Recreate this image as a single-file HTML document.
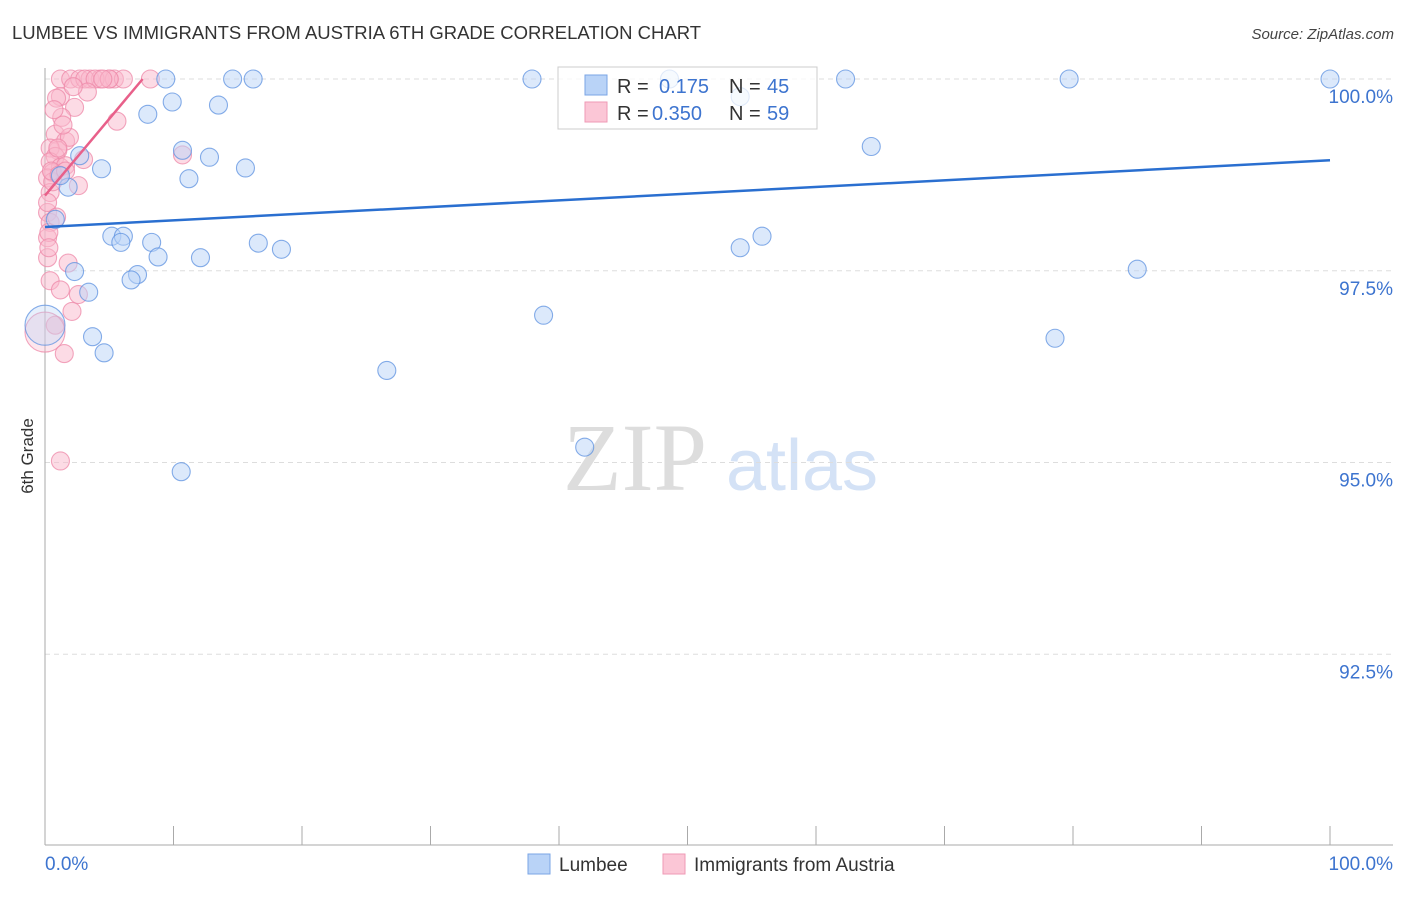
<!DOCTYPE html>
<html><head><meta charset="utf-8"><style>
body{margin:0;background:#fff;font-family:"Liberation Sans",sans-serif;}
</style></head><body>
<svg id="chart" width="1406" height="892" viewBox="0 0 1406 892" xmlns="http://www.w3.org/2000/svg">
<text x="12" y="39" font-size="18.5" fill="#333" font-family="Liberation Sans, sans-serif">LUMBEE VS IMMIGRANTS FROM AUSTRIA 6TH GRADE CORRELATION CHART</text>
<text x="1394" y="39" font-size="15" fill="#444" text-anchor="end" font-style="italic">Source: ZipAtlas.com</text>
<text transform="translate(33,456) rotate(-90)" font-size="17" fill="#333" text-anchor="middle">6th Grade</text>
<g>
<text x="635" y="490" font-size="96" fill="#ddd" font-family="Liberation Serif, serif" text-anchor="middle">ZIP</text>
<text x="802" y="490" font-size="72" fill="#d4e2f6" text-anchor="middle">atlas</text>
</g>
<g id="grid"></g><g id="axes"></g>
<g id="pts"></g><g id="lines"></g>
<g>
<rect x="558" y="67" width="259" height="62" fill="#fff" fill-opacity="0.75" stroke="#ccc"/>
<rect x="585" y="75" width="22" height="20" fill="#b9d3f7" stroke="#7aa5e6"/>
<rect x="585" y="102" width="22" height="20" fill="#fbc6d6" stroke="#ef9ab5"/>
<text x="617" y="93" font-size="20" fill="#333">R = </text><text x="659" y="93" font-size="20" fill="#3d74cf">0.175</text>
<text x="729" y="93" font-size="20" fill="#333">N = </text><text x="767" y="93" font-size="20" fill="#3d74cf">45</text>
<text x="617" y="120" font-size="20" fill="#333">R = </text><text x="652" y="120" font-size="20" fill="#3d74cf">0.350</text>
<text x="729" y="120" font-size="20" fill="#333">N = </text><text x="767" y="120" font-size="20" fill="#3d74cf">59</text>
</g>
<g>
<rect x="528" y="854" width="22" height="20" fill="#b9d3f7" stroke="#7aa5e6"/>
<text x="559" y="871" font-size="19" fill="#333">Lumbee</text>
<rect x="663" y="854" width="22" height="20" fill="#fbc6d6" stroke="#ef9ab5"/>
<text x="694" y="871" font-size="19" fill="#333">Immigrants from Austria</text>
</g>
</svg>
<script>
const xTickLabels=["0.0%","100.0%"];
const yTicks=[100,97.5,95,92.5];
const yTickLabels=["100.0%","97.5%","95.0%","92.5%"];
const lumbeeX=[9.4,14.6,16.2,37.9,62.3,79.7,100,48.6,54.1,9.9,13.5,8.0,10.7,12.8,2.7,4.4,15.6,11.2,64.3,1.8,0.8,5.2,6.1,5.9,8.3,16.6,18.4,8.8,12.1,54.1,55.8,2.3,7.2,6.7,85,3.4,38.8,0,3.7,4.6,78.6,26.6,42,10.6,1.2];
const lumbeeY=[100,100,100,100,100,100,100,100,99.77,99.7,99.66,99.54,99.07,98.98,99,98.83,98.84,98.7,99.12,98.59,98.17,97.95,97.95,97.87,97.87,97.86,97.78,97.68,97.67,97.8,97.95,97.49,97.45,97.38,97.52,97.22,96.92,96.79,96.64,96.43,96.62,96.2,95.2,94.88,98.74];
const austriaX=[1.2,2,2.7,3.5,4.3,5,5.4,3.1,3.9,6.1,8.2,3.3,1.2,2.3,1.3,5.6,0.8,1.6,1,10.7,0.4,0.8,0.4,1.2,1.6,0.6,0.2,2.6,0.4,0.2,0.4,0.2,0.2,1.8,0.4,1.2,2.6,2.1,0.8,0,1.5,1.2,5,4.5,0.9,1.9,0.2,0.6,0.5,1.1,1.4,0.3,0.7,1.6,2.2,0.9,0.3,1.0,3.0];
const austriaY=[100,100,100,100,100,100,100,100,100,100,100,99.83,99.77,99.63,99.5,99.45,99.28,99.19,99.07,99.01,99.1,98.99,98.92,98.85,98.87,98.78,98.71,98.61,98.52,98.26,98.13,97.93,97.67,97.6,97.37,97.25,97.19,96.97,96.79,96.7,96.42,95.02,100,100,99.75,99.24,98.39,98.66,98.8,98.75,99.4,98.0,99.6,98.8,99.9,98.2,97.8,99.1,98.95];
const lumbeeLine=[0,98.07,100,98.94];
const austriaLine=[0,98.48,7.6,100];
const X=v=>45+v*12.85, Y=v=>79+(100-v)*76.7;
const NS="http://www.w3.org/2000/svg";
function mk(tag,attrs,parent){const e=document.createElementNS(NS,tag);for(const k in attrs)e.setAttribute(k,attrs[k]);document.getElementById(parent).appendChild(e);return e;}
yTicks.forEach((t,i)=>{
 const g=mk('line',{x1:45,x2:1393,y1:Y(t),y2:Y(t),stroke:'#ddd','stroke-dasharray':'5,4'},'grid');
 
 
 const l=mk('text',{x:1393,y:Y(t)+24,'font-size':19,fill:'#3d74cf','text-anchor':'end'},'grid');l.textContent=yTickLabels[i];
 
 
});
const ax=mk('line',{x1:45,x2:1393,y1:845,y2:845,stroke:'#aaa'},'axes');


const ay=mk('line',{x1:45,x2:45,y1:68,y2:845,stroke:'#aaa'},'axes');


for(let i=0;i<=10;i++){const t=mk('line',{x1:X(i*10),x2:X(i*10),y1:826,y2:845,stroke:'#aaa'},'axes');
 
 }
[[0,'start',45],[1,'end',1393]].forEach(([i,a,x])=>{const t=mk('text',{x:x,y:870,'font-size':19,fill:'#3d74cf','text-anchor':a},'axes');t.textContent=xTickLabels[i];
 
 });
function pts(xs,ys,fill,stroke,name){xs.forEach((x,i)=>{const big=(x===0&&ys[i]<97&&ys[i]>96.6);const c=mk('circle',{cx:X(x),cy:Y(ys[i]),r:big?20:9,fill:fill,'fill-opacity':big?0.35:0.5,stroke:stroke,'stroke-width':1.1,'stroke-opacity':0.75},'pts');
 
 });}
pts(austriaX,austriaY,'#f9b8cc','#ee88a8','austria-point');
pts(lumbeeX,lumbeeY,'#b9d3f7','#5d92e0','lumbee-point');
const l1=mk('line',{x1:X(lumbeeLine[0]),y1:Y(lumbeeLine[1]),x2:X(lumbeeLine[2]),y2:Y(lumbeeLine[3]),stroke:'#2a6fd0','stroke-width':2.5},'lines');


const l2=mk('line',{x1:X(austriaLine[0]),y1:Y(austriaLine[1]),x2:X(austriaLine[2]),y2:Y(austriaLine[3]),stroke:'#e8608a','stroke-width':2.5},'lines');


</script>
</body></html>
